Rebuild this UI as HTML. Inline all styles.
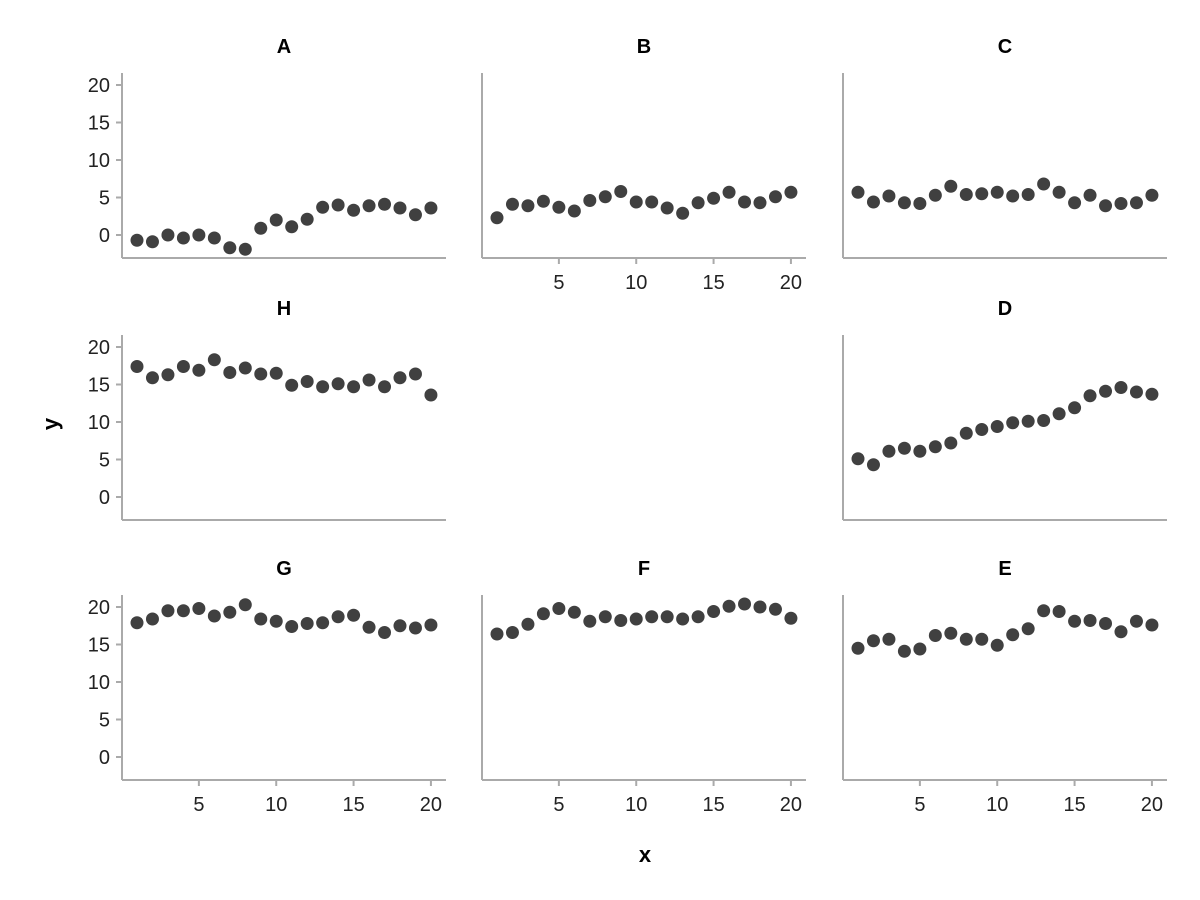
<!DOCTYPE html>
<html><head><meta charset="utf-8"><style>body{margin:0;background:#fff}svg{display:block;font-family:"Liberation Sans","DejaVu Sans",sans-serif}</style></head>
<body>
<svg id="chart" width="1200" height="900"></svg>
<script>
const xs=[1,2,3,4,5,6,7,8,9,10,11,12,13,14,15,16,17,18,19,20];
const xTicks=[5,10,15,20];
const yTicks=[0,5,10,15,20];
const panelNames=["A","B","C","H","D","G","F","E"];
const serA=[-0.7,-0.9,0,-0.4,0,-0.4,-1.7,-1.9,0.9,2,1.1,2.1,3.7,4,3.3,3.9,4.1,3.6,2.7,3.6];
const serB=[2.3,4.1,3.9,4.5,3.7,3.2,4.6,5.1,5.8,4.4,4.4,3.6,2.9,4.3,4.9,5.7,4.4,4.3,5.1,5.7];
const serC=[5.7,4.4,5.2,4.3,4.2,5.3,6.5,5.4,5.5,5.7,5.2,5.4,6.8,5.7,4.3,5.3,3.9,4.2,4.3,5.3];
const serH=[17.4,15.9,16.3,17.4,16.9,18.3,16.6,17.2,16.4,16.5,14.9,15.4,14.7,15.1,14.7,15.6,14.7,15.9,16.4,13.6];
const serD=[5.1,4.3,6.1,6.5,6.1,6.7,7.2,8.5,9.0,9.4,9.9,10.1,10.2,11.1,11.9,13.5,14.1,14.6,14.0,13.7];
const serG=[17.9,18.4,19.5,19.5,19.8,18.8,19.3,20.3,18.4,18.1,17.4,17.8,17.9,18.7,18.9,17.3,16.6,17.5,17.2,17.6];
const serF=[16.4,16.6,17.7,19.1,19.8,19.3,18.1,18.7,18.2,18.4,18.7,18.7,18.4,18.7,19.4,20.1,20.4,20.0,19.7,18.5];
const serE=[14.5,15.5,15.7,14.1,14.4,16.2,16.5,15.7,15.7,14.9,16.3,17.1,19.5,19.4,18.1,18.2,17.8,16.7,18.1,17.6];
const series={A:serA,B:serB,C:serC,H:serH,D:serD,G:serG,F:serF,E:serE};
const NS="http://www.w3.org/2000/svg";
const svg=document.getElementById('chart');
function mk(t,a,p){const e=document.createElementNS(NS,t);for(const k in a)e.setAttribute(k,a[k]);(p||svg).appendChild(e);return e;}
const cols=[122,482,843], rows=[73,335,595];
const W=324,H=185;
// layout: [name,col,row,showY,showX]
const layout=[["A",0,0,1,0],["B",1,0,0,1],["C",2,0,0,0],["H",0,1,1,0],["D",2,1,0,0],["G",0,2,1,1],["F",1,2,0,1],["E",2,2,0,1]];
layout.forEach(([n,c,r,sy,sx])=>{
  const x0=cols[c],y0=rows[r];
  const g=mk('g',{});
  
  
  const xS=v=>x0+15+(v-1)*15.47;
  const yS=v=>y0+162-v*7.5;
  const t=mk('text',{x:x0+W/2,y:y0-20,'text-anchor':'middle','font-size':20,'font-weight':'bold',fill:'#000'},g);t.textContent=n;
  
  mk('line',{x1:x0,y1:y0,x2:x0,y2:y0+H,stroke:'#aaa','stroke-width':2},g);
  mk('line',{x1:x0,y1:y0+H,x2:x0+W,y2:y0+H,stroke:'#aaa','stroke-width':2},g);
  if(sy)yTicks.forEach(v=>{mk('line',{x1:x0-6,x2:x0,y1:yS(v),y2:yS(v),stroke:'#aaa','stroke-width':2},g);
    const tt=mk('text',{x:x0-12,y:yS(v)+7,'text-anchor':'end','font-size':20,fill:'#222'},g);tt.textContent=v;
    });
  if(sx)xTicks.forEach(v=>{mk('line',{x1:xS(v),x2:xS(v),y1:y0+H,y2:y0+H+6,stroke:'#aaa','stroke-width':2},g);
    const tt=mk('text',{x:xS(v),y:y0+H+31,'text-anchor':'middle','font-size':20,fill:'#222'},g);tt.textContent=v;
    });
  series[n].forEach((v,i)=>{const p=mk('circle',{cx:xS(xs[i]),cy:yS(v),r:6.5,fill:'#404040'},g);
    });
});
const xl=mk('text',{x:645,y:862,'text-anchor':'middle','font-size':22,'font-weight':'bold'});xl.textContent='x';

const yl=mk('text',{x:0,y:0,'text-anchor':'middle','font-size':22,'font-weight':'bold',transform:'translate(58,424) rotate(-90)'});yl.textContent='y';

</script>
</body></html>
